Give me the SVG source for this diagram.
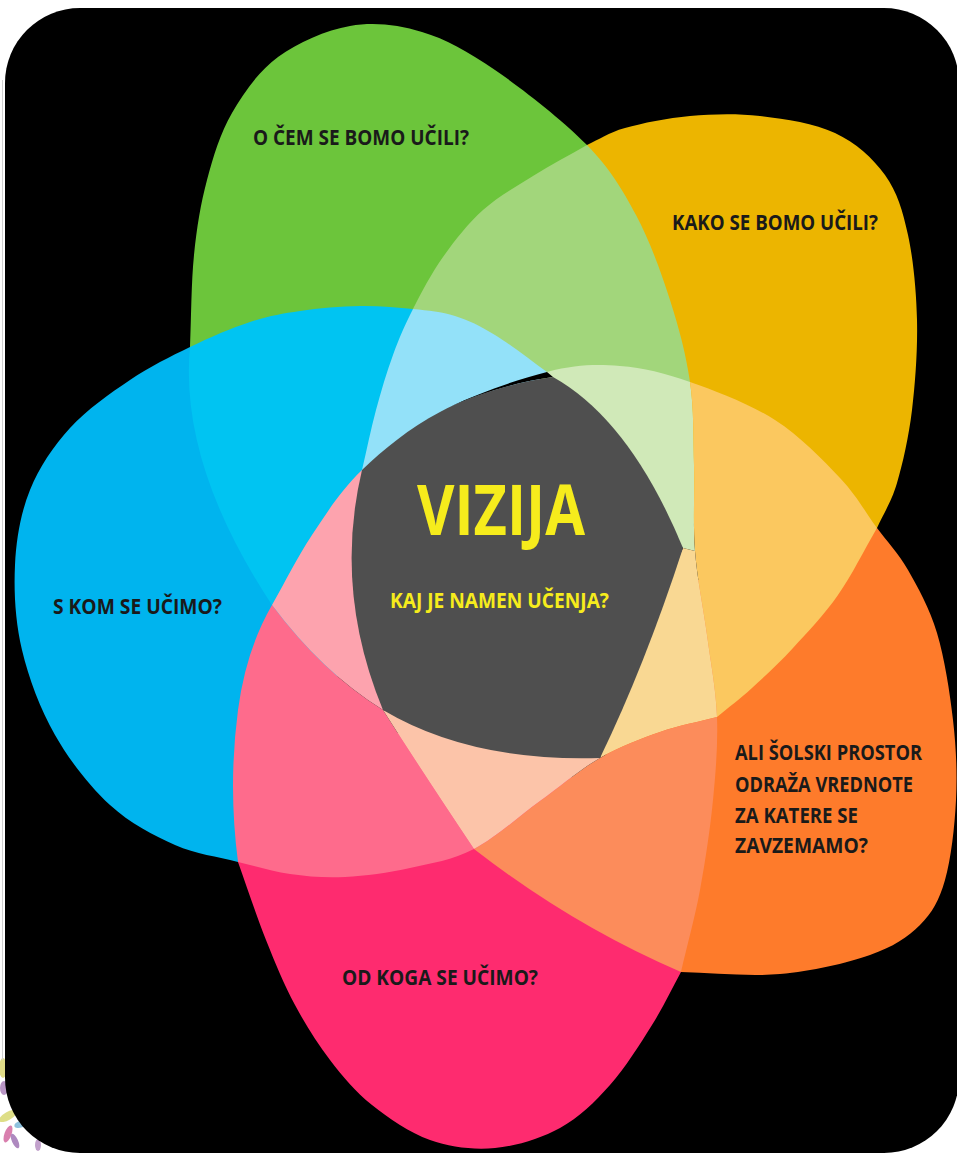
<svg xmlns="http://www.w3.org/2000/svg" width="957" height="1153" viewBox="0 0 957 1153">
<defs>
<style>
.lbl{font-family:'Open Sans','Liberation Sans','DejaVu Sans',sans-serif;font-weight:700;font-size:20.5px;fill:#1a1a1a}
.ylw{font-family:'Open Sans','Liberation Sans','DejaVu Sans',sans-serif;font-weight:700;fill:#f6ec1c}
</style>
</defs>
<rect width="957" height="1153" fill="#ffffff"/>
<g id="decor" opacity="0.8">
<ellipse cx="3" cy="1068" rx="4" ry="10" fill="#d9d36a"/>
<ellipse cx="4" cy="1088" rx="4" ry="7" fill="#a77bb6"/>
<ellipse cx="8" cy="1116" rx="10" ry="4" transform="rotate(-30 8 1116)" fill="#d6d66a"/>
<ellipse cx="21" cy="1124" rx="7" ry="3.5" transform="rotate(-20 21 1124)" fill="#74b4d6"/>
<ellipse cx="8" cy="1134" rx="3.5" ry="9" transform="rotate(20 8 1134)" fill="#d0609a"/>
<ellipse cx="15" cy="1141" rx="3" ry="8" transform="rotate(-25 15 1141)" fill="#9a6cb0"/>
<ellipse cx="38" cy="1145" rx="3" ry="6" fill="#b48ac0"/>
</g>
<line x1="2.5" y1="80" x2="2.5" y2="1060" stroke="#cfcfcf" stroke-width="1"/>
<rect id="frame" x="5" y="8" width="954" height="1145" rx="75" ry="75" fill="#000000"/>

<g id="node-green">
<path fill="#6cc53b" d="M190,347 C191.3,316.3 191.2,282.8 194,255 C196.8,227.2 200.7,203.7 207,180 C213.3,156.3 220.2,133.5 232,113 C243.8,92.5 258.3,71.5 278,57 C297.7,42.5 326,30.2 350,26 C374,21.8 397.8,24.7 422,32 C446.2,39.3 467.5,51.2 495,70 C522.5,88.8 563.5,120.8 587,145 L520,560 Z"/>
<text class="lbl" x="253" y="145" textLength="216" lengthAdjust="spacingAndGlyphs">O ČEM SE BOMO UČILI?</text>
</g>
<g id="node-yellow">
<path fill="#ecb500" d="M587,145 C599.7,139.3 607.8,132.8 625,128 C642.2,123.2 667.5,118 690,116 C712.5,114 735.8,113.2 760,116 C784.2,118.8 814.2,123.2 835,133 C855.8,142.8 872.8,158 885,175 C897.2,192 902.7,210.8 908,235 C913.3,259.2 916.3,290.8 917,320 C917.7,349.2 915.3,382.8 912,410 C908.7,437.2 902.8,463.3 897,483 C891.2,502.7 883.7,513 877,528 L540,520 Z"/>
<text class="lbl" x="672" y="230" textLength="206" lengthAdjust="spacingAndGlyphs">KAKO SE BOMO UČILI?</text>
</g>
<g id="node-orange">
<path fill="#fe7b2b" d="M877,528 C887.3,542 898,552.5 908,570 C918,587.5 929.5,608 937,633 C944.5,658 949.8,692.2 953,720 C956.2,747.8 957.3,773.3 956,800 C954.7,826.7 951,859.2 945,880 C939,900.8 932.5,912.5 920,925 C907.5,937.5 893.3,946.8 870,955 C846.7,963.2 811.5,971.2 780,974 C748.5,976.8 714,972.8 681,972 L560,620 Z"/>
<text class="lbl" x="735" y="760" textLength="187" lengthAdjust="spacingAndGlyphs">ALI ŠOLSKI PROSTOR</text>
<text class="lbl" x="735" y="792" textLength="178" lengthAdjust="spacingAndGlyphs">ODRAŽA VREDNOTE</text>
<text class="lbl" x="735" y="823" textLength="123" lengthAdjust="spacingAndGlyphs">ZA KATERE SE</text>
<text class="lbl" x="735" y="853" textLength="133" lengthAdjust="spacingAndGlyphs">ZAVZEMAMO?</text>
</g>
<g id="node-pink">
<path fill="#fe2b6f" d="M681,972 C671.3,989.7 663.8,1006.2 652,1025 C640.2,1043.8 625.3,1067.8 610,1085 C594.7,1102.2 579.2,1117.5 560,1128 C540.8,1138.5 516.7,1146 495,1148 C473.3,1150 450.5,1147.2 430,1140 C409.5,1132.8 388.7,1118.3 372,1105 C355.3,1091.7 342.8,1076.7 330,1060 C317.2,1043.3 305.7,1025 295,1005 C284.3,985 275.5,963.8 266,940 C256.5,916.2 247.3,888 238,862 L500,650 Z"/>
<text class="lbl" x="342" y="985" textLength="196" lengthAdjust="spacingAndGlyphs">OD KOGA SE UČIMO?</text>
</g>
<g id="node-blue">
<path fill="#00b4ee" d="M238,862 C217,856.3 196.3,854.5 175,845 C153.7,835.5 130,823.3 110,805 C90,786.7 69.7,760.8 55,735 C40.3,709.2 28.7,678.3 22,650 C15.3,621.7 13.7,591.7 15,565 C16.3,538.3 20.8,512.8 30,490 C39.2,467.2 53.3,446.3 70,428 C86.7,409.7 110,393.5 130,380 C150,366.5 170,356.7 190,347 L400,560 Z"/>
<text class="lbl" x="53" y="614" textLength="169" lengthAdjust="spacingAndGlyphs">S KOM SE UČIMO?</text>
</g>

<g id="overlaps">
<path id="ov-blue-green" fill="#00c4f2" d="M272,605 Q179,464 190,347 C210,337.3 231.7,328 250,322 C268.3,316 281.7,313.7 300,311 C318.3,308.3 341.2,306.3 360,306 C378.8,305.7 397.2,307.3 413,309 L400,470 L330,560 Z"/>
<path id="ov-light-green" fill="#a2d67b" d="M413,309 C421.3,292.7 431.3,273.5 443,257 C454.7,240.5 468,223.5 483,210 C498,196.5 515.7,186.8 533,176 C550.3,165.2 569,155.3 587,145 C610.5,169.2 622.2,189.2 636,215 C649.8,240.8 661,272.2 670,300 C679,327.8 686,354.5 690,382 L620,400 L547,390 L450,340 Z"/>
<path id="ov-light-blue" fill="#93e1f9" d="M362,470 C366.7,450 370.8,429.2 376,410 C381.2,390.8 386.8,371.8 393,355 C399.2,338.2 404.7,325.3 413,309 C428.8,310.7 441.3,311.7 455,316 C468.7,320.3 479.7,325.7 495,335 C510.3,344.3 529.7,359.7 547,372 L520,400 L400,470 Z"/>
<path id="ov-pale-green" fill="#d0e9b8" d="M547,372 C577,364.3 596.2,364.3 620,366 C643.8,367.7 664.2,373 690,382 C694,409.5 693.2,436.8 694,465 C694.8,493.2 692.8,522.7 695,551 L683,548 L600,470 L547,380 Z"/>
<path id="ov-light-orange" fill="#fbc85f" d="M690,382 C715.8,391 750,404 775,420 C800,436 823,460 840,478 C857,496 864.7,511.3 877,528 C864,550.3 852,575 838,595 C824,615 807.3,632.5 793,648 C778.7,663.5 764.7,676.5 752,688 C739.3,699.5 728.7,707.3 717,717 C716,689.5 710.7,662.7 707,635 C703.3,607.3 697.2,579.3 695,551 C692.8,522.7 694.8,493.2 694,465 C693.2,436.8 694,409.5 690,382 Z"/>
<path id="ov-pale-yellow" fill="#f9d893" d="M683,548 L695,551 C697.2,579.3 703.3,607.3 707,635 C710.7,662.7 716,689.5 717,717 C698,722 679.5,725.2 660,732 C640.5,738.8 620,746.5 600,758 L630,660 Z"/>
<path id="ov-coral" fill="#fc8c5b" d="M474,849 C495.7,837.8 519,816.2 540,801 C561,785.8 580,769.5 600,758 C620,746.5 640.5,738.8 660,732 C679.5,725.2 698,722 717,717 C718,744.5 715.8,771.2 713,800 C710.2,828.8 705.3,861.3 700,890 C694.7,918.7 687.3,944.7 681,972 Q572.5,925.5 474,849 Z"/>
<path id="ov-med-pink" fill="#fe6b8c" d="M238,862 Q228,786 238,710 Q246,650 272,605 Q322.5,672.5 383,710 Q421.5,770.5 474,849 C452.3,860.2 431.5,863.3 410,868 C388.5,872.7 365,876 345,877 C325,878 307.8,876.5 290,874 C272.2,871.5 255.3,866 238,862 Z"/>
<path id="ov-peach" fill="#fcc4a9" d="M383,710 Q421.5,770.5 474,849 C495.7,837.8 519,816.2 540,801 C561,785.8 580,769.5 600,758 L480,730 Z"/>
<path id="ov-pale-pink" fill="#fda3ae" d="M272,605 C285.3,581.7 297,557.5 312,535 C327,512.5 340.7,490.5 362,470 L390,600 L383,710 Q322.5,672.5 272,605 Z"/>
<path id="ov-sliver" fill="#000000" d="M450,407 C478,393 517,379.7 547,372 L553,377 C518,381.5 480,393.5 450,407 Z"/>
</g>

<g id="node-center">
<path fill="#4f4f4f" d="M362,470 C383.3,449.5 409.2,428.3 440,412 C470.8,395.7 515,382 553,377 Q630,420 683,548 Q645,665 600,758 Q470.5,762 383,710 Q333.5,590 362,470 Z"/>
<text class="ylw" x="417" y="535" font-size="69" textLength="168" lengthAdjust="spacingAndGlyphs">VIZIJA</text>
<text class="ylw" x="390" y="608" font-size="20.5" textLength="219" lengthAdjust="spacingAndGlyphs">KAJ JE NAMEN UČENJA?</text>
</g>
</svg>
